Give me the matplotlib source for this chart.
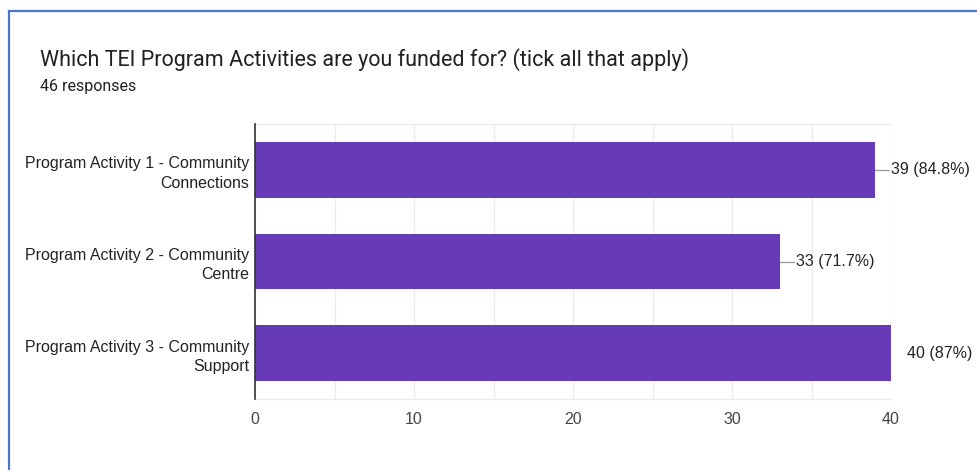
import matplotlib.pyplot as plt
from matplotlib.lines import Line2D
from matplotlib.transforms import offset_copy

# survey results
categories = [
    "Program Activity 1 - Community\nConnections",
    "Program Activity 2 - Community\nCentre",
    "Program Activity 3 - Community\nSupport",
]
counts = [39, 33, 40]
percents = ["84.8%", "71.7%", "87%"]
n_responses = 46
x_ticks = [0, 10, 20, 30, 40]

BAR_COLOR = "#673ab7"
GRID_COLOR = "#ebebeb"

W, H = 977, 470
fig = plt.figure(figsize=(W / 100, H / 100), dpi=100)
fig.patch.set_facecolor("white")

# card border (left + top edge)
fig.add_artist(Line2D([9 / W, 9 / W], [0, 1 - 11 / H], color="#4a76c9", lw=1.6,
                      transform=fig.transFigure))
fig.add_artist(Line2D([9 / W, 1], [1 - 11 / H, 1 - 11 / H], color="#4a76c9", lw=1.6,
                      transform=fig.transFigure))

fig.text(40 / W, 1 - 60 / H, "Which TEI Program Activities are you funded for? (tick all that apply)",
         family="Roboto", fontsize=15.5, color="#202124", va="center", ha="left")
fig.text(40 / W, 1 - 87 / H, f"{n_responses} responses",
         family="Roboto", fontsize=11.5, color="#202124", va="center", ha="left")

left, right, top, bottom = 255, 891, 124, 399
ax = fig.add_axes([left / W, 1 - bottom / H, (right - left) / W, (bottom - top) / H])

y = list(range(len(categories)))
ax.barh(y, counts, height=0.61, color=BAR_COLOR, zorder=3)
ax.set_xlim(0, 40)
ax.set_ylim(len(categories) - 0.5, -0.5)

ax.set_xticks(x_ticks)
ax.set_xticks(range(0, 41, 5), minor=True)
ax.set_yticks(y)
ax.set_yticklabels(categories, family="Liberation Sans", fontsize=11.5,
                   color="#222222", ha="right", linespacing=1.35)
ax.tick_params(axis="y", length=0, pad=4)
ax.tick_params(axis="x", which="both", length=0, pad=9, labelsize=11.5, labelcolor="#444444")
for lbl in ax.get_xticklabels():
    lbl.set_family("Liberation Sans")

ax.grid(axis="x", which="both", color=GRID_COLOR, lw=1, zorder=0)
for side in ["top", "bottom", "right"]:
    ax.spines[side].set_color(GRID_COLOR)
    ax.spines[side].set_linewidth(1)
ax.spines["right"].set_visible(False)
ax.spines["left"].set_color("#333333")
ax.spines["left"].set_linewidth(1.2)
ax.spines["left"].set_zorder(4)

# value labels with a short leader line
px_per_unit = ax.bbox.width / 40
lead = 14 / px_per_unit
for i, (c, p) in enumerate(zip(counts, percents)):
    ax.plot([c, c + lead], [i, i], color="#999999", lw=0.9, zorder=2, clip_on=True)
    ax.text(c, i, f"{c} ({p})", transform=offset_copy(ax.transData, fig, x=16, units="dots"),
            family="Liberation Sans", fontsize=11.5, color="#222222",
            va="center", ha="left", clip_on=False)

fig.savefig("out.png", dpi=100, facecolor="white")
